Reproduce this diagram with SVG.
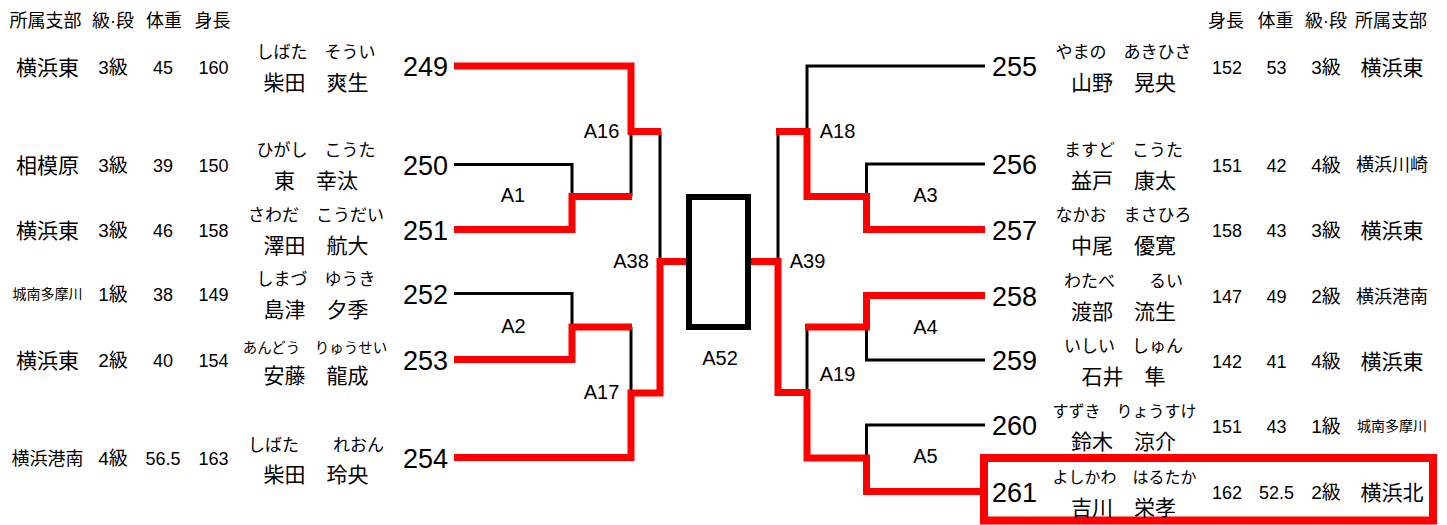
<svg xmlns="http://www.w3.org/2000/svg" width="1447" height="525" viewBox="0 0 1447 525">
<style>
text{font-family:"Liberation Sans","Noto Sans CJK JP",sans-serif;fill:#000;text-anchor:middle}
.num{font-size:27px}
.ns{text-anchor:start}
.ne{text-anchor:end}
.hd{font-size:18px}
.br{font-size:21px}
.br18{font-size:18px}
.br14{font-size:14px}
.cls{font-size:19px}
.dat{font-size:18px}
.furi{font-size:17px}
.f16{font-size:16px}
.f14{font-size:14.5px}
.name{font-size:21px}
.lbl{font-size:20px}
.blk{stroke:#000;stroke-width:3;fill:none}
.red{stroke:#f00;stroke-width:7;fill:none}
</style>
<rect width="1447" height="525" fill="#fff"/>
<g id="header-left">
<text class="hd" x="45.5" y="26.5">所属支部</text>
<text class="hd" x="113" y="26.5">級·段</text>
<text class="hd" x="164" y="26.5">体重</text>
<text class="hd" x="212.5" y="26.5">身長</text>
</g>
<g id="header-right">
<text class="hd" x="1226" y="26.5">身長</text>
<text class="hd" x="1275.5" y="26.5">体重</text>
<text class="hd" x="1326" y="26.5">級·段</text>
<text class="hd" x="1391" y="26.5">所属支部</text>
</g>
<g id="connectors">
<path class="blk" d="M454 164.5H572V196.5"/>
<path class="blk" d="M631 131.5V196.5"/>
<path class="blk" d="M660 131.5V261.5"/>
<path class="blk" d="M454 293.5H572V327"/>
<path class="blk" d="M631 327V393"/>
<path class="red" d="M454 66H631V131.5H661"/>
<path class="red" d="M454 229.5H572V196.5H632"/>
<path class="red" d="M454 359.5H572V327H632"/>
<path class="red" d="M454 457.5H631V393H660V261.5H692"/>
<path class="blk" d="M985 66H807V131.5"/>
<path class="blk" d="M778 131.5V261.5"/>
<path class="blk" d="M985 164H866.5V196.5"/>
<path class="blk" d="M985 360H866.5V327"/>
<path class="blk" d="M807 327V392.5"/>
<path class="blk" d="M985 425H866.5V458"/>
<path class="red" d="M985 229.5H866.5V196.5H807V131.5H776"/>
<path class="red" d="M985 295.5H866.5V327H805"/>
<path class="red" d="M746 261.5H778V392.5H807V458H866.5V491.5H988"/>
<text class="lbl" x="513" y="201.5">A1</text>
<text class="lbl" x="601.5" y="138">A16</text>
<text class="lbl" x="631" y="268">A38</text>
<text class="lbl" x="513.5" y="332.5">A2</text>
<text class="lbl" x="601.5" y="399">A17</text>
<text class="lbl" x="837.5" y="138">A18</text>
<text class="lbl" x="925.5" y="202">A3</text>
<text class="lbl" x="807.5" y="268">A39</text>
<text class="lbl" x="925.5" y="334">A4</text>
<text class="lbl" x="837.5" y="381">A19</text>
<text class="lbl" x="925.5" y="463">A5</text>
</g>
<g id="final">
<rect x="689" y="197" width="59" height="130" fill="none" stroke="#000" stroke-width="6"/>
<text class="lbl" x="720" y="365">A52</text>
</g>
<g id="p249">
<text class="br" x="47.5" y="74.5">横浜東</text>
<text class="cls" x="113" y="73.5">3級</text>
<text class="dat" x="163" y="73.5">45</text>
<text class="dat" x="213.5" y="73.5">160</text>
<text class="furi" x="316" y="57.5">しばた　そうい</text>
<text class="name" x="316" y="89.5">柴田　爽生</text>
<text class="num ne" x="448" y="76">249</text>
</g>
<g id="p250">
<text class="br" x="47.5" y="173">相模原</text>
<text class="cls" x="113" y="172">3級</text>
<text class="dat" x="163" y="172">39</text>
<text class="dat" x="213.5" y="172">150</text>
<text class="furi" x="316" y="156">ひがし　こうた</text>
<text class="name" x="316" y="188">東　幸汰</text>
<text class="num ne" x="448" y="174.5">250</text>
</g>
<g id="p251">
<text class="br" x="47.5" y="238">横浜東</text>
<text class="cls" x="113" y="237">3級</text>
<text class="dat" x="163" y="237">46</text>
<text class="dat" x="213.5" y="237">158</text>
<text class="furi" x="316" y="221">さわだ　こうだい</text>
<text class="name" x="316" y="253">澤田　航大</text>
<text class="num ne" x="448" y="239.5">251</text>
</g>
<g id="p252">
<text class="br14" x="47.5" y="299">城南多摩川</text>
<text class="cls" x="113" y="301">1級</text>
<text class="dat" x="163" y="301">38</text>
<text class="dat" x="213.5" y="301">149</text>
<text class="furi" x="316" y="285">しまづ　ゆうき</text>
<text class="name" x="316" y="317">島津　夕季</text>
<text class="num ne" x="448" y="303.5">252</text>
</g>
<g id="p253">
<text class="br" x="47.5" y="368">横浜東</text>
<text class="cls" x="113" y="367">2級</text>
<text class="dat" x="163" y="367">40</text>
<text class="dat" x="213.5" y="367">154</text>
<text class="f14" x="315" y="353">あんどう　りゅうせい</text>
<text class="name" x="316" y="383">安藤　龍成</text>
<text class="num ne" x="448" y="369.5">253</text>
</g>
<g id="p254">
<text class="br18" x="47.5" y="464.5">横浜港南</text>
<text class="cls" x="113" y="465">4級</text>
<text class="dat" x="163" y="465">56.5</text>
<text class="dat" x="213.5" y="465">163</text>
<text class="furi" x="316" y="451">しばた　　れおん</text>
<text class="name" x="316" y="481.5">柴田　玲央</text>
<text class="num ne" x="448" y="467.5">254</text>
</g>
<g id="p255">
<text class="num ns" x="992" y="76">255</text>
<text class="furi" x="1123.5" y="57.5">やまの　あきひさ</text>
<text class="name" x="1123.5" y="89.5">山野　晃央</text>
<text class="dat" x="1227" y="73.5">152</text>
<text class="dat" x="1276.5" y="73.5">53</text>
<text class="cls" x="1326" y="73.5">3級</text>
<text class="br" x="1392" y="74.5">横浜東</text>
</g>
<g id="p256">
<text class="num ns" x="992" y="174">256</text>
<text class="furi" x="1123.5" y="156">ますど　こうた</text>
<text class="name" x="1123.5" y="188">益戸　康太</text>
<text class="dat" x="1227" y="171.5">151</text>
<text class="dat" x="1276.5" y="171.5">42</text>
<text class="cls" x="1326" y="171.5">4級</text>
<text class="br18" x="1392" y="171">横浜川崎</text>
</g>
<g id="p257">
<text class="num ns" x="992" y="239.5">257</text>
<text class="furi" x="1123.5" y="221">なかお　まさひろ</text>
<text class="name" x="1123.5" y="253">中尾　優寛</text>
<text class="dat" x="1227" y="237">158</text>
<text class="dat" x="1276.5" y="237">43</text>
<text class="cls" x="1326" y="237">3級</text>
<text class="br" x="1392" y="238">横浜東</text>
</g>
<g id="p258">
<text class="num ns" x="992" y="305.5">258</text>
<text class="furi" x="1123.5" y="287">わたべ　　るい</text>
<text class="name" x="1123.5" y="319">渡部　流生</text>
<text class="dat" x="1227" y="303">147</text>
<text class="dat" x="1276.5" y="303">49</text>
<text class="cls" x="1326" y="303">2級</text>
<text class="br18" x="1392" y="302.5">横浜港南</text>
</g>
<g id="p259">
<text class="num ns" x="992" y="370">259</text>
<text class="furi" x="1123.5" y="352">いしい　しゅん</text>
<text class="name" x="1123.5" y="384">石井　隼</text>
<text class="dat" x="1227" y="367.5">142</text>
<text class="dat" x="1276.5" y="367.5">41</text>
<text class="cls" x="1326" y="367.5">4級</text>
<text class="br" x="1392" y="368.5">横浜東</text>
</g>
<g id="p260">
<text class="num ns" x="992" y="435">260</text>
<text class="f16" x="1124.5" y="417">すずき　りょうすけ</text>
<text class="name" x="1123.5" y="449">鈴木　涼介</text>
<text class="dat" x="1227" y="432.5">151</text>
<text class="dat" x="1276.5" y="432.5">43</text>
<text class="cls" x="1326" y="432.5">1級</text>
<text class="br14" x="1392" y="430.5">城南多摩川</text>
</g>
<g id="p261">
<rect x="984" y="458" width="449" height="62.5" fill="none" stroke="#f00" stroke-width="8"/>
<text class="num ns" x="992" y="501.5">261</text>
<text class="f16" x="1124.5" y="483">よしかわ　はるたか</text>
<text class="name" x="1123.5" y="515">吉川　栄孝</text>
<text class="dat" x="1227" y="499">162</text>
<text class="dat" x="1276.5" y="499">52.5</text>
<text class="cls" x="1326" y="499">2級</text>
<text class="br" x="1392" y="500">横浜北</text>
</g>
</svg>
